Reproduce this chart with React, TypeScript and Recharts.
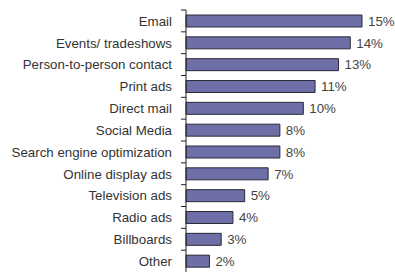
import { BarChart, Bar, XAxis, YAxis, LabelList } from 'recharts';

const channels = [
  'Email',
  'Events/ tradeshows',
  'Person-to-person contact',
  'Print ads',
  'Direct mail',
  'Social Media',
  'Search engine optimization',
  'Online display ads',
  'Television ads',
  'Radio ads',
  'Billboards',
  'Other',
];
const shares = [15, 14, 13, 11, 10, 8, 8, 7, 5, 4, 3, 2];

const data = channels.map((name, i) => ({ name, value: shares[i] }));

const W = 395;
const H = 272;
const TOP = 10;
const BOTTOM = 0;
const BAND = (H - TOP - BOTTOM) / channels.length;
const AXIS_X = 186;

const font = '"Liberation Sans", Arial, sans-serif';

function CategoryTick(props: any) {
  const { x, y, payload } = props;
  const yb = y - BAND / 2;
  return (
    <g>
      <line x1={AXIS_X - 5} y1={yb} x2={AXIS_X} y2={yb} stroke="#222" strokeWidth={1} />
      <text x={x} y={y} dy="0.36em" textAnchor="end" fill="#333" fontSize={13.3} fontFamily={font}>
        {payload.value}
      </text>
    </g>
  );
}

export default function App() {
  return (
    <div style={{ position: 'absolute', left: 0, top: 0, width: W, height: H, background: '#fff' }}>
      <BarChart
        width={W}
        height={H}
        data={data}
        layout="vertical"
        margin={{ top: TOP, right: W - 362, bottom: BOTTOM, left: 0 }}
      >
        <XAxis type="number" domain={[0, 15]} hide />
        <YAxis
          type="category"
          dataKey="name"
          width={AXIS_X}
          tickSize={5}
          tickMargin={9}
          tickLine={false}
          axisLine={{ stroke: '#222' }}
          tick={<CategoryTick />}
          interval={0}
        />
        <Bar
          dataKey="value"
          barSize={12}
          fill="#6f6fa8"
          stroke="#2a2a3a"
          strokeWidth={1}
          isAnimationActive={false}
        >
          <LabelList
            dataKey="value"
            position="right"
            offset={6}
            formatter={(v: any) => `${v}%`}
            fill="#444"
            fontSize={13.3}
            fontFamily={font}
          />
        </Bar>
      </BarChart>
    </div>
  );
}
